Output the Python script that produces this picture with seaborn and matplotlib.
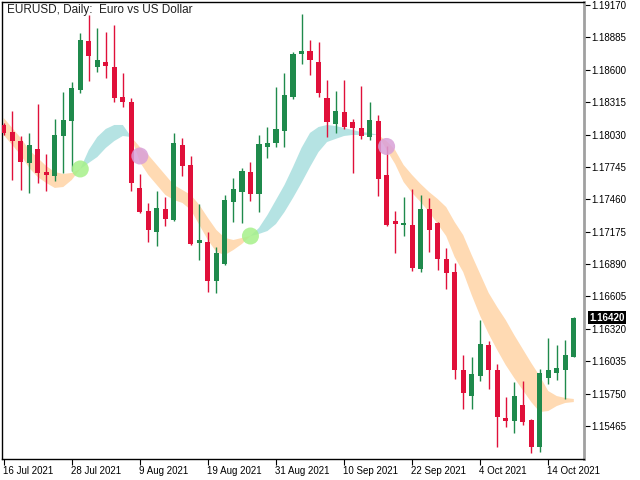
import pandas as pd
import numpy as np
import seaborn as sns
import matplotlib.pyplot as plt
import matplotlib.transforms as mtransforms

# Daily EURUSD candles, 16 Jul 2021 .. 19 Oct 2021
opens = [1.18114, 1.18050, 1.17973, 1.17782, 1.17903, 1.17698, 1.17668, 1.18020, 1.18152, 1.18422,
         1.18853, 1.18627, 1.18668, 1.18627, 1.18358, 1.18319, 1.17560, 1.17360, 1.17175, 1.17375,
         1.17281, 1.17938, 1.17762, 1.17078, 1.17082, 1.16744, 1.16888, 1.17439, 1.17527, 1.17698,
         1.17504, 1.17918, 1.17953, 1.18064, 1.18363, 1.18736, 1.18765, 1.18668, 1.18352, 1.18120,
         1.18228, 1.18140, 1.18088, 1.18006, 1.18152, 1.17674, 1.17269, 1.17237, 1.17234, 1.16847,
         1.17375, 1.17252, 1.16935, 1.16820, 1.15958, 1.15732, 1.15908, 1.16178, 1.15958, 1.15536,
         1.15512, 1.15650, 1.15518, 1.15283, 1.15890, 1.15934, 1.15961, 1.16075]
highs = [1.18132, 1.18237, 1.18017, 1.18041, 1.18299, 1.17859, 1.18167, 1.18402, 1.18492, 1.18924,
         1.19082, 1.18968, 1.18932, 1.18994, 1.18574, 1.18349, 1.17683, 1.17428, 1.17536, 1.17480,
         1.18044, 1.18000, 1.17841, 1.17419, 1.17175, 1.17038, 1.17498, 1.17645, 1.17733, 1.17786,
         1.18026, 1.18094, 1.18446, 1.18574, 1.18759, 1.19091, 1.18862, 1.18844, 1.18510, 1.18413,
         1.18510, 1.18167, 1.18457, 1.18319, 1.18202, 1.17929, 1.17357, 1.17483, 1.17551, 1.17498,
         1.17472, 1.17260, 1.17032, 1.16897, 1.16090, 1.16070, 1.16398, 1.16213, 1.16011, 1.15720,
         1.15852, 1.15861, 1.15527, 1.15964, 1.16240, 1.16178, 1.16222, 1.16427]
lows = [1.18026, 1.17630, 1.17542, 1.17513, 1.17601, 1.17536, 1.17624, 1.17694, 1.17712, 1.18393,
        1.18504, 1.18583, 1.18528, 1.18319, 1.18275, 1.17536, 1.17340, 1.17087, 1.17049, 1.17225,
        1.17272, 1.17668, 1.17062, 1.16926, 1.16647, 1.16633, 1.16882, 1.17263, 1.17249, 1.17448,
        1.17346, 1.17821, 1.17923, 1.17923, 1.18340, 1.18651, 1.18554, 1.18363, 1.18011, 1.18046,
        1.18079, 1.17694, 1.17993, 1.17982, 1.17492, 1.17225, 1.16990, 1.17140, 1.16832, 1.16823,
        1.16999, 1.16838, 1.16671, 1.15879, 1.15615, 1.15615, 1.15864, 1.15791, 1.15283, 1.15459,
        1.15406, 1.15474, 1.15230, 1.15239, 1.15832, 1.15870, 1.15703, 1.16070]
closes = [1.18046, 1.17976, 1.17791, 1.17938, 1.17694, 1.17674, 1.18026, 1.18158, 1.18440, 1.18862,
          1.18724, 1.18683, 1.18629, 1.18354, 1.18319, 1.17601, 1.17348, 1.17193, 1.17384, 1.17289,
          1.17956, 1.17756, 1.17069, 1.17102, 1.16744, 1.16985, 1.17454, 1.17551, 1.17709, 1.17504,
          1.17947, 1.17953, 1.18079, 1.18378, 1.18739, 1.18763, 1.18689, 1.18393, 1.18143, 1.18237,
          1.18099, 1.18090, 1.18017, 1.18158, 1.17641, 1.17234, 1.17245, 1.17254, 1.16858, 1.17375,
          1.17190, 1.16935, 1.16814, 1.15958, 1.15758, 1.15923, 1.16187, 1.15958, 1.15547, 1.15512,
          1.15729, 1.15503, 1.15283, 1.15932, 1.15958, 1.15976, 1.16090, 1.16420]

# two lines of the trend ribbon
fast_line = [1.18026, 1.17938, 1.17850, 1.17736, 1.17656, 1.17604, 1.17560, 1.17568, 1.17630, 1.17727,
             1.17894, 1.18008, 1.18079, 1.18114, 1.18114, 1.18008, 1.17788, 1.17674, 1.17586, 1.17498,
             1.17454, 1.17428, 1.17366, 1.17234, 1.17102, 1.16996, 1.16970, 1.17014, 1.17067, 1.17137,
             1.17208, 1.17322, 1.17454, 1.17586, 1.17744, 1.17912, 1.18044, 1.18096, 1.18114, 1.18105,
             1.18088, 1.18070, 1.18052, 1.18044, 1.18026, 1.17894, 1.17771, 1.17612, 1.17516, 1.17436,
             1.17348, 1.17243, 1.17137, 1.16952, 1.16820, 1.16618, 1.16433, 1.16275, 1.16134, 1.16002,
             1.15888, 1.15782, 1.15676, 1.15588, 1.15597, 1.15641, 1.15668, 1.15676]
slow_line = [1.18176, 1.18088, 1.18000, 1.17894, 1.17824, 1.17753, 1.17700, 1.17683, 1.17692, 1.17727,
             1.17780, 1.17832, 1.17912, 1.17973, 1.18017, 1.18008, 1.17920, 1.17850, 1.17762, 1.17674,
             1.17586, 1.17542, 1.17498, 1.17410, 1.17296, 1.17190, 1.17120, 1.17102, 1.17120, 1.17137,
             1.17155, 1.17181, 1.17243, 1.17348, 1.17472, 1.17604, 1.17744, 1.17876, 1.17964, 1.17991,
             1.18017, 1.18026, 1.18026, 1.18026, 1.18026, 1.17973, 1.17894, 1.17762, 1.17674, 1.17595,
             1.17524, 1.17463, 1.17392, 1.17260, 1.17146, 1.16970, 1.16803, 1.16636, 1.16512, 1.16398,
             1.16266, 1.16143, 1.16020, 1.15905, 1.15773, 1.15729, 1.15712, 1.15703]

# signal dots
buy_idx = [9, 29]
buy_price = [1.17727, 1.17137]
sell_idx = [16, 45]
sell_price = [1.17841, 1.17925]

price_ticks = [1.19170, 1.18885, 1.18600, 1.18315, 1.18030, 1.17745, 1.17460,
               1.17175, 1.16890, 1.16605, 1.16320, 1.16035, 1.15750, 1.15465]
date_tick_idx = [0, 8, 16, 24, 32, 40, 48, 56, 64]
date_tick_labels = ["16 Jul 2021", "28 Jul 2021", "9 Aug 2021", "19 Aug 2021", "31 Aug 2021",
                    "10 Sep 2021", "22 Sep 2021", "4 Oct 2021", "14 Oct 2021"]
last_price = 1.16420

df = pd.DataFrame({"open": opens, "high": highs, "low": lows, "close": closes,
                   "fast": fast_line, "slow": slow_line})
df["date"] = pd.bdate_range("2021-07-16", periods=len(df))
df["i"] = np.arange(len(df))

sns.set_style("ticks")
plt.rcParams["font.family"] = ["Liberation Sans", "DejaVu Sans"]

fig = plt.figure(figsize=(6.4, 4.8), dpi=100)
ax = fig.add_axes([2 / 640, 21 / 480, 582 / 640, 457 / 480])

up_col = "#1f8a4c"
dn_col = "#e0103a"

# ribbon
ax.fill_between(df["i"], df["fast"], df["slow"], where=df["fast"] >= df["slow"],
                interpolate=True, color="#b5e3e3", lw=0, zorder=1)
ax.fill_between(df["i"], df["fast"], df["slow"], where=df["fast"] <= df["slow"],
                interpolate=True, color="#ffdab3", lw=0, zorder=1)

# candles
bull = df["close"] >= df["open"]
colors = np.where(bull, up_col, dn_col)
ax.vlines(df["i"], df["low"], df["high"], colors=colors, lw=1, zorder=2)
body_low = df[["open", "close"]].min(axis=1)
body_h = (df["close"] - df["open"]).abs().clip(lower=0.00009)
ax.bar(df["i"], body_h, bottom=body_low, width=0.6, color=colors, lw=0, zorder=3)

# signal dots
sns.scatterplot(x=buy_idx, y=buy_price, s=150, color="#a6f08a", alpha=0.85,
                edgecolor="none", ax=ax, zorder=4)
sns.scatterplot(x=sell_idx, y=sell_price, s=150, color="#d9a0d8", alpha=0.85,
                edgecolor="none", ax=ax, zorder=4)

ax.set_xlim(-0.2, 68.2)
ax.set_ylim(1.15175, 1.19196)

ax.yaxis.tick_right()
ax.set_yticks(price_ticks)
ax.set_yticklabels([f"{v:.5f}" for v in price_ticks], fontsize=7)
ax.set_xticks(date_tick_idx)
ax.set_xticklabels(date_tick_labels, fontsize=7, ha="left")
ax.tick_params(axis="x", length=4, width=0.8, pad=1, colors="black")
ax.tick_params(axis="y", length=4, width=0.8, pad=1, colors="black")
for lbl in ax.get_xticklabels():
    lbl.set_transform(lbl.get_transform() + mtransforms.ScaledTranslation(-1 / 100, 0, fig.dpi_scale_trans))

for s in ["top", "left", "bottom"]:
    ax.spines[s].set_color("black")
    ax.spines[s].set_linewidth(1)
ax.spines["right"].set_color("#a0a0a0")
ax.spines["right"].set_linewidth(2)
ax.set_xlabel("")
ax.set_ylabel("")

# current price marker
trans = mtransforms.blended_transform_factory(ax.transAxes, ax.transData)
ax.text(1.0 + 5 / 582, last_price, f"{last_price:.5f}", transform=trans, fontsize=7,
        color="white", fontweight="bold", va="center", ha="left",
        bbox=dict(boxstyle="square,pad=0.15", fc="black", ec="none"))

fig.text(7 / 640, 1 - 10 / 480, "EURUSD, Daily:  Euro vs US Dollar", fontsize=8.5,
         color="#202020", va="center", ha="left")

fig.savefig("out.png", dpi=100)
